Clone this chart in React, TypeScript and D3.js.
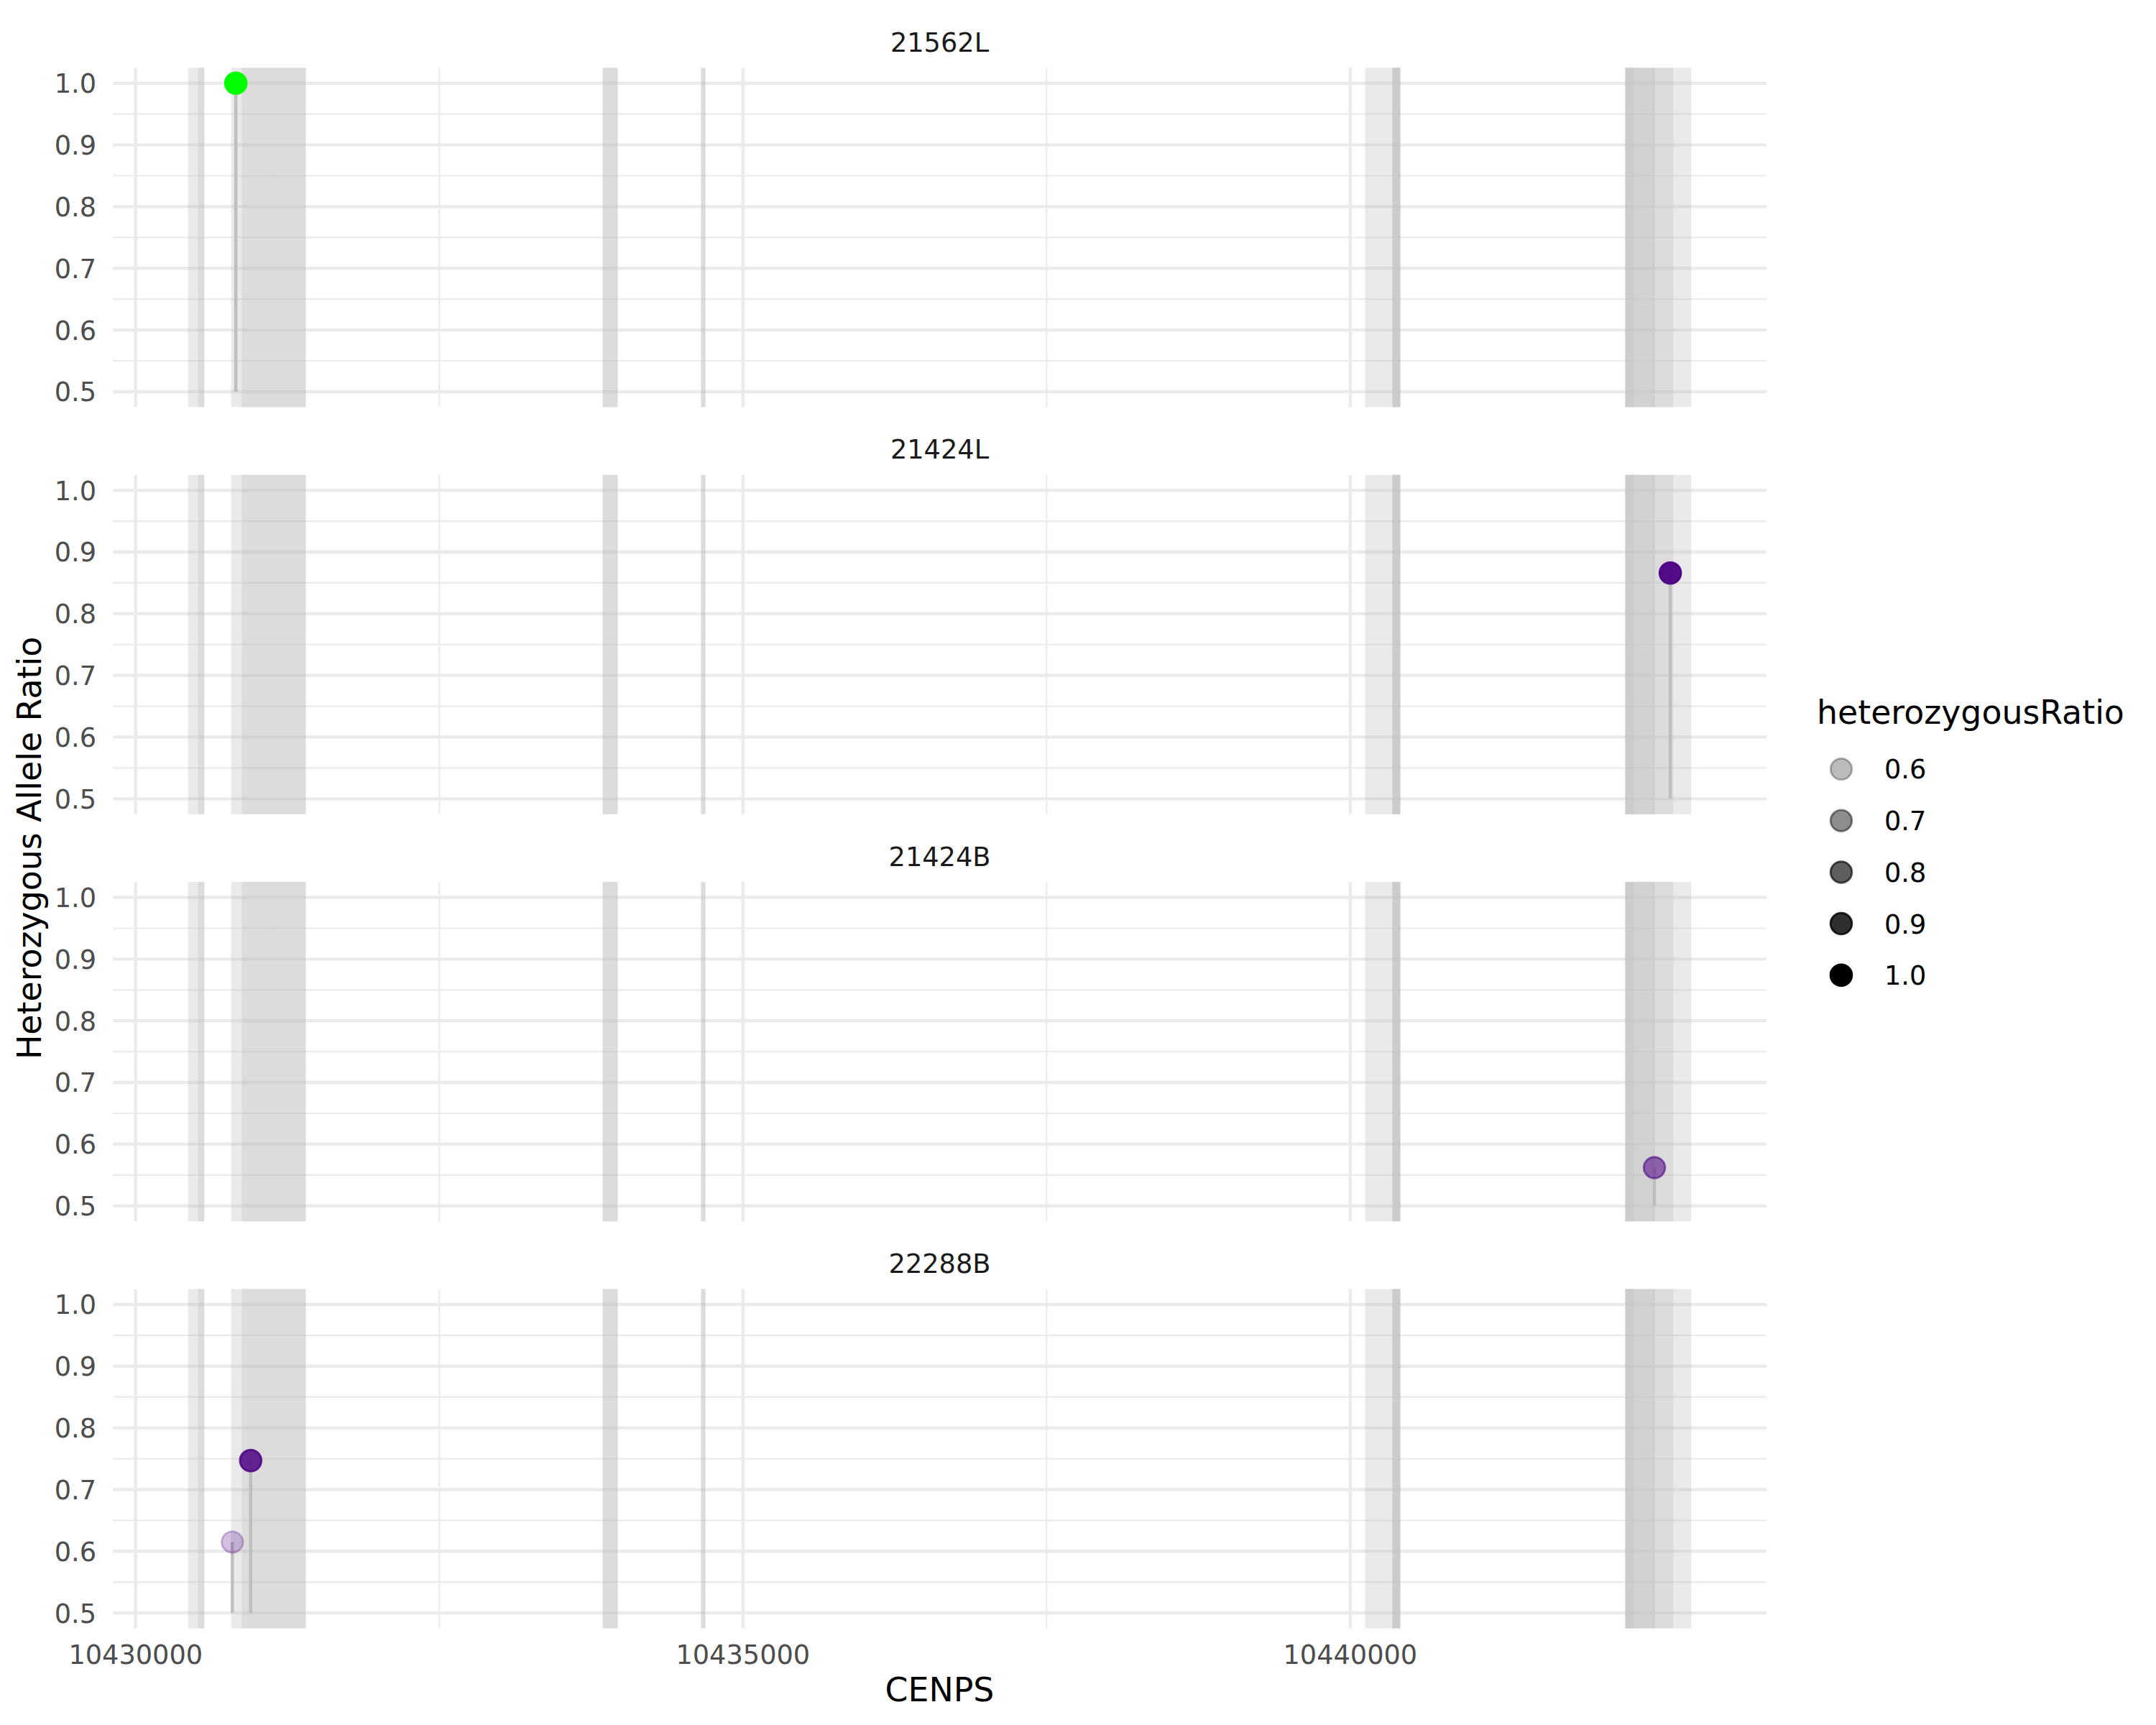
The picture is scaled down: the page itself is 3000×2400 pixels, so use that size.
import React from "react";
import * as d3 from "d3";

// ---- data ----
const samples = ["21562L", "21424L", "21424B", "22288B"];

const variantSample = ["21562L", "21424L", "21424B", "22288B", "22288B"];
const variantPos = [10430825, 10442635, 10442504, 10430796, 10430947];
const variantRatio = [1.0, 0.866, 0.562, 0.615, 0.747];
const variantHetRatio = [1.0, 0.97, 0.755, 0.59, 0.91];
const variantStatus = ["hom", "het", "het", "het", "het"];

const exonStart = [
  10430431, 10430514, 10430786, 10430874, 10431125, 10433845, 10433845,
  10434655, 10434655, 10440122, 10440347, 10440347, 10440347, 10442264,
  10442264, 10442264, 10442264,
];
const exonEnd = [
  10430565, 10430565, 10431401, 10431125, 10431401, 10433969, 10433969,
  10434691, 10434691, 10440412, 10440412, 10440412, 10440412, 10442808,
  10442660, 10442506, 10442335,
];

const xMajorTicks = [10430000, 10435000, 10440000];
const xMinorTicks = [10432500, 10437500, 10442500];
const yMajorTicks = [0.5, 0.6, 0.7, 0.8, 0.9, 1.0];
const yMinorTicks = [0.55, 0.65, 0.75, 0.85, 0.95];
const legendBreaks = [0.6, 0.7, 0.8, 0.9, 1.0];
const alphaDomain = [0.51, 1.0];
const stemBase = 0.5;

// ---- layout ----
const W = 3000;
const H = 2400;
const panelLeft = 157;
const panelRight = 2458;
const panelTop0 = 94.3;
const panelStep = 566.4;
const panelH = 472.1;
const FONT = "'DejaVu Sans', Verdana, sans-serif";
const gridCol = "#EBEBEB";

export default function App() {
  const xmin = d3.min(exonStart.concat(variantPos)) as number;
  const xmax = d3.max(exonEnd.concat(variantPos)) as number;
  const xpad = (xmax - xmin) * 0.05;
  const x = d3
    .scaleLinear()
    .domain([xmin - xpad, xmax + xpad])
    .range([panelLeft, panelRight]);

  const ymin = stemBase;
  const ymax = d3.max(variantRatio) as number;
  const ypad = (ymax - ymin) * 0.05;
  const yDomain = [ymin - ypad, ymax + ypad];

  const alpha = d3.scaleLinear().domain(alphaDomain).range([0.1, 1]);
  const colorOf = (s: string) => (s === "hom" ? "#00FF00" : "#4B0082");
  const fmtY = d3.format(".1f");

  const pointR = 14.8;
  const pointStroke = 2.95;

  const panels = samples.map((s, i) => {
    const top = panelTop0 + i * panelStep;
    const y = d3.scaleLinear().domain(yDomain).range([top + panelH, top]);
    const idx = variantSample
      .map((v, k) => (v === s ? k : -1))
      .filter((k) => k >= 0);
    return (
      <g key={s}>
        {/* minor grid */}
        {yMinorTicks.map((t) => (
          <line
            key={"ym" + t}
            x1={panelLeft}
            x2={panelRight}
            y1={y(t)}
            y2={y(t)}
            stroke={gridCol}
            strokeWidth={2.2}
          />
        ))}
        {xMinorTicks.map((t) => (
          <line
            key={"xm" + t}
            x1={x(t)}
            x2={x(t)}
            y1={top}
            y2={top + panelH}
            stroke={gridCol}
            strokeWidth={2.2}
          />
        ))}
        {/* major grid */}
        {yMajorTicks.map((t) => (
          <line
            key={"yM" + t}
            x1={panelLeft}
            x2={panelRight}
            y1={y(t)}
            y2={y(t)}
            stroke={gridCol}
            strokeWidth={4.4}
          />
        ))}
        {xMajorTicks.map((t) => (
          <line
            key={"xM" + t}
            x1={x(t)}
            x2={x(t)}
            y1={top}
            y2={top + panelH}
            stroke={gridCol}
            strokeWidth={4.4}
          />
        ))}
        {/* exon rects */}
        {exonStart.map((st, k) => (
          <rect
            key={"r" + k}
            x={x(st)}
            y={top}
            width={x(exonEnd[k]) - x(st)}
            height={panelH}
            fill="#BEBEBE"
            fillOpacity={0.33}
          />
        ))}
        {/* stems */}
        {idx.map((k) => (
          <line
            key={"s" + k}
            x1={x(variantPos[k])}
            x2={x(variantPos[k])}
            y1={y(stemBase)}
            y2={y(variantRatio[k])}
            stroke="#BEBEBE"
            strokeWidth={4.4}
          />
        ))}
        {/* points */}
        {idx.map((k) => (
          <circle
            key={"p" + k}
            cx={x(variantPos[k])}
            cy={y(variantRatio[k])}
            r={pointR}
            fill={colorOf(variantStatus[k])}
            fillOpacity={alpha(variantHetRatio[k])}
            stroke={colorOf(variantStatus[k])}
            strokeOpacity={alpha(variantHetRatio[k])}
            strokeWidth={pointStroke}
          />
        ))}
        {/* y tick labels */}
        {yMajorTicks.map((t) => (
          <text
            key={"yl" + t}
            x={134}
            y={y(t) + 13.4}
            textAnchor="end"
            fontSize={36.7}
            fill="#4D4D4D"
            fontFamily={FONT}
          >
            {fmtY(t)}
          </text>
        ))}
        {/* strip label */}
        <text
          x={(panelLeft + panelRight) / 2}
          y={top - 22.6}
          textAnchor="middle"
          fontSize={36.7}
          fill="#1A1A1A"
          fontFamily={FONT}
        >
          {s}
        </text>
      </g>
    );
  });

  const lastBottom = panelTop0 + (samples.length - 1) * panelStep + panelH;

  return (
    <svg
      width={W}
      height={H}
      viewBox={`0 0 ${W} ${H}`}
      style={{ position: "absolute", left: 0, top: 0, background: "#fff" }}
    >
      <rect x={0} y={0} width={W} height={H} fill="#fff" />
      {panels}
      {/* x tick labels */}
      {xMajorTicks.map((t) => (
        <text
          key={"xl" + t}
          x={x(t)}
          y={lastBottom + 48.9}
          textAnchor="middle"
          fontSize={36.7}
          fill="#4D4D4D"
          fontFamily={FONT}
        >
          {d3.format("d")(t)}
        </text>
      ))}
      {/* axis titles */}
      <text
        x={(panelLeft + panelRight) / 2}
        y={2367}
        textAnchor="middle"
        fontSize={45.8}
        fill="#000"
        fontFamily={FONT}
      >
        CENPS
      </text>
      <text
        transform={`translate(57, ${(panelTop0 + lastBottom) / 2}) rotate(-90)`}
        textAnchor="middle"
        fontSize={45.8}
        fill="#000"
        fontFamily={FONT}
      >
        Heterozygous Allele Ratio
      </text>
      {/* legend */}
      <text x={2528} y={1006.7} fontSize={45.8} fill="#000" fontFamily={FONT}>
        heterozygousRatio
      </text>
      {legendBreaks.map((b, i) => {
        const cy = 1070 + i * 71.7;
        return (
          <g key={"lg" + b}>
            <circle
              cx={2562}
              cy={cy}
              r={pointR}
              fill="#000"
              fillOpacity={alpha(b)}
              stroke="#000"
              strokeOpacity={alpha(b)}
              strokeWidth={pointStroke}
            />
            <text
              x={2622}
              y={cy + 13.4}
              fontSize={36.7}
              fill="#000"
              fontFamily={FONT}
            >
              {fmtY(b)}
            </text>
          </g>
        );
      })}
    </svg>
  );
}
